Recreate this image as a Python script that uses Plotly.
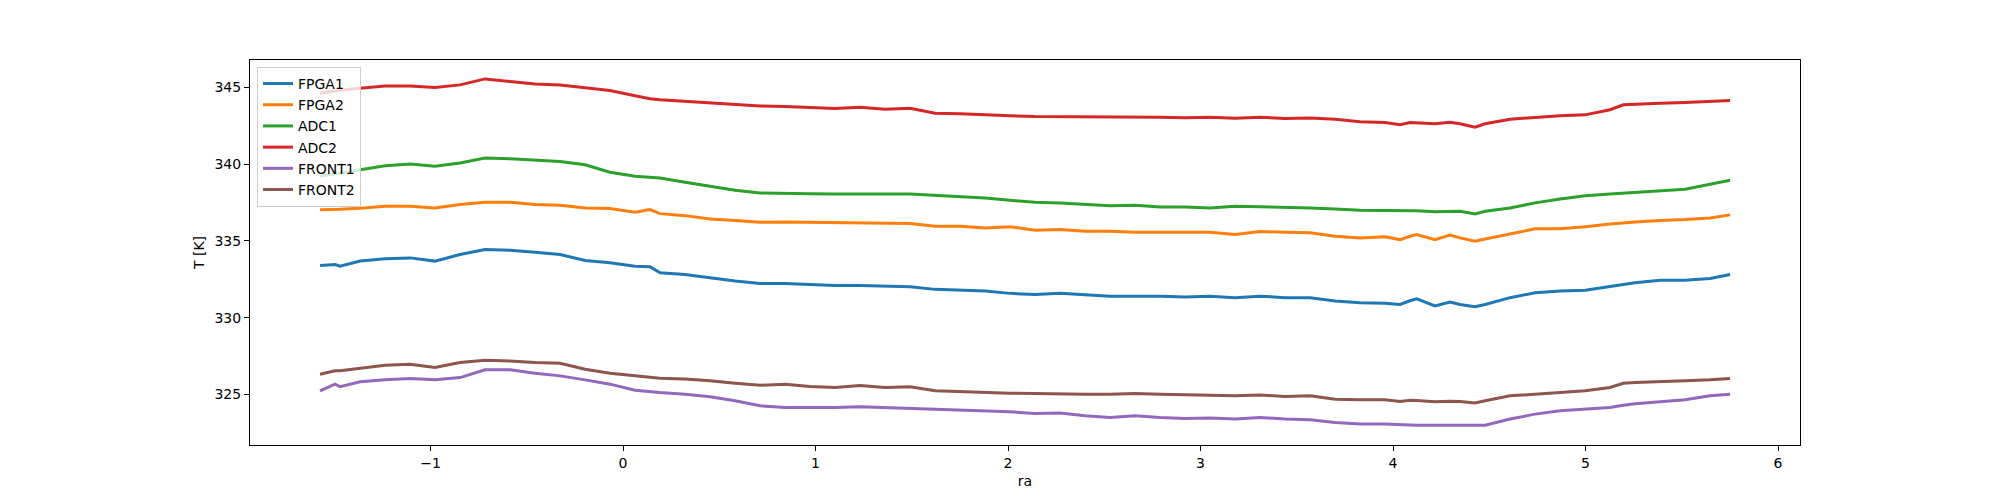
import plotly.graph_objects as go

ra = [-1.574, -1.496, -1.470, -1.366, -1.236, -1.106, -0.977, -0.847, -0.717, -0.587, -0.457,
      -0.327, -0.197, -0.068, 0.062, 0.140, 0.192, 0.322, 0.452, 0.582, 0.712, 0.842,
      0.971, 1.101, 1.231, 1.361, 1.491, 1.621, 1.751, 1.881, 2.010, 2.140,
      2.270, 2.400, 2.530, 2.660, 2.790, 2.919, 3.049, 3.179, 3.309, 3.439,
      3.569, 3.699, 3.829, 3.958, 4.036, 4.088, 4.123, 4.218, 4.296, 4.348, 4.426, 4.478, 4.608, 4.738,
      4.868, 4.998, 5.127, 5.196, 5.257, 5.387, 5.517, 5.647, 5.751]

fpga1 = [333.40, 333.46, 333.35, 333.68, 333.83, 333.89, 333.68, 334.11, 334.43, 334.39, 334.26,
         334.11, 333.72, 333.57, 333.35, 333.31, 332.92, 332.81, 332.60, 332.38, 332.23, 332.23,
         332.16, 332.10, 332.10, 332.05, 332.01, 331.84, 331.79, 331.73, 331.58, 331.51,
         331.58, 331.49, 331.40, 331.40, 331.40, 331.34, 331.40, 331.30, 331.40, 331.30,
         331.30, 331.08, 330.97, 330.93, 330.86, 331.10, 331.23, 330.76, 331.02, 330.86, 330.71, 330.86, 331.30, 331.62,
         331.73, 331.79, 332.05, 332.15, 332.27, 332.44, 332.44, 332.55, 332.81]

fpga2 = [337.03, 337.03, 337.05, 337.12, 337.25, 337.25, 337.14, 337.36, 337.51, 337.51, 337.36,
         337.31, 337.14, 337.10, 336.86, 337.03, 336.77, 336.64, 336.42, 336.32, 336.21, 336.23,
         336.21, 336.17, 336.17, 336.17, 336.12, 335.95, 335.95, 335.84, 335.92, 335.69,
         335.73, 335.62, 335.62, 335.56, 335.56, 335.52, 335.56, 335.42, 335.60, 335.56,
         335.52, 335.30, 335.19, 335.26, 335.08, 335.30, 335.41, 335.08, 335.37, 335.19, 334.97, 335.12, 335.47, 335.78,
         335.78, 335.91, 336.10, 336.18, 336.23, 336.32, 336.38, 336.49, 336.69]

adc1 = [339.20, 339.37, 339.40, 339.63, 339.89, 340.00, 339.85, 340.06, 340.39, 340.34, 340.24,
        340.17, 339.95, 339.46, 339.20, 339.12, 339.09, 338.81, 338.55, 338.29, 338.11, 338.07,
        338.07, 338.05, 338.07, 338.05, 338.05, 337.96, 337.90, 337.79, 337.64, 337.51,
        337.47, 337.40, 337.29, 337.31, 337.20, 337.20, 337.14, 337.25, 337.22, 337.18,
        337.14, 337.07, 336.99, 336.97, 336.97, 336.97, 336.95, 336.90, 336.92, 336.92, 336.75, 336.92, 337.14, 337.47,
        337.72, 337.94, 338.05, 338.10, 338.16, 338.27, 338.36, 338.68, 338.94]

adc2 = [344.61, 344.78, 344.80, 344.93, 345.08, 345.08, 344.98, 345.15, 345.54, 345.37, 345.21,
        345.15, 344.98, 344.78, 344.44, 344.25, 344.18, 344.07, 344.00, 343.89, 343.78, 343.75,
        343.68, 343.61, 343.70, 343.57, 343.63, 343.31, 343.27, 343.18, 343.14, 343.09,
        343.09, 343.05, 343.05, 343.05, 343.05, 343.01, 343.05, 342.98, 343.05, 342.96,
        342.99, 342.92, 342.75, 342.70, 342.55, 342.70, 342.68, 342.62, 342.72, 342.62, 342.40, 342.62, 342.92, 343.03,
        343.14, 343.20, 343.53, 343.85, 343.89, 343.96, 344.00, 344.07, 344.13]

front1 = [325.24, 325.67, 325.50, 325.82, 325.95, 326.04, 325.95, 326.10, 326.60, 326.60, 326.38,
          326.21, 325.95, 325.67, 325.28, 325.18, 325.13, 325.02, 324.85, 324.59, 324.26, 324.15,
          324.15, 324.15, 324.20, 324.15, 324.09, 324.05, 324.00, 323.94, 323.87, 323.76,
          323.79, 323.61, 323.50, 323.61, 323.50, 323.44, 323.46, 323.40, 323.50, 323.40,
          323.35, 323.18, 323.07, 323.07, 323.02, 323.00, 323.00, 323.00, 323.00, 323.00, 322.96, 323.00, 323.40, 323.72,
          323.94, 324.05, 324.15, 324.30, 324.40, 324.52, 324.65, 324.91, 325.02]

front2 = [326.32, 326.54, 326.55, 326.69, 326.90, 326.97, 326.75, 327.08, 327.23, 327.18, 327.08,
          327.03, 326.64, 326.38, 326.21, 326.10, 326.06, 326.00, 325.89, 325.73, 325.60, 325.67,
          325.52, 325.45, 325.58, 325.45, 325.50, 325.24, 325.17, 325.13, 325.08, 325.06,
          325.02, 325.02, 325.02, 325.06, 325.02, 324.97, 324.95, 324.91, 324.97, 324.87,
          324.91, 324.69, 324.65, 324.65, 324.54, 324.63, 324.60, 324.52, 324.55, 324.54, 324.44, 324.59, 324.91, 325.02,
          325.13, 325.24, 325.45, 325.73, 325.78, 325.82, 325.89, 325.95, 326.04]

names = ["FPGA1", "FPGA2", "ADC1", "ADC2", "FRONT1", "FRONT2"]
series = [fpga1, fpga2, adc1, adc2, front1, front2]
colors = ["#1f77b4", "#ff7f0e", "#2ca02c", "#d62728", "#9467bd", "#8c564b"]

x_ticks = [-1, 0, 1, 2, 3, 4, 5, 6]
y_ticks = [325, 330, 335, 340, 345]

fig = go.Figure()
for name, vals, col in zip(names, series, colors):
    fig.add_trace(go.Scatter(x=ra, y=vals, mode="lines", name=name,
                             line=dict(color=col, width=3)))

font = dict(family="DejaVu Sans", size=14, color="black")
axis_common = dict(showline=True, mirror=True, linecolor="black", linewidth=1,
                   ticks="outside", ticklen=5, tickwidth=1, tickcolor="black",
                   showgrid=False, zeroline=False, tickfont=font)

fig.update_layout(
    width=1992, height=492,
    margin=dict(l=242, r=200, t=52, b=55, autoexpand=False),
    paper_bgcolor="white", plot_bgcolor="white",
    font=font,
    showlegend=True,
    legend=dict(x=0.0045, y=0.982, xanchor="left", yanchor="top",
                bgcolor="rgba(255,255,255,0.8)", bordercolor="#cccccc", borderwidth=1,
                font=font, tracegroupgap=0),
    xaxis=dict(range=[-1.938, 6.114], tickvals=x_ticks,
               ticktext=["\u22121", "0", "1", "2", "3", "4", "5", "6"],
               title=dict(text="ra", font=font, standoff=6), **axis_common),
    yaxis=dict(range=[321.71, 346.77], tickvals=y_ticks,
               title=dict(text="T [K]", font=font, standoff=6), **axis_common),
)

fig.write_html("out.html", config={"displayModeBar": False})
